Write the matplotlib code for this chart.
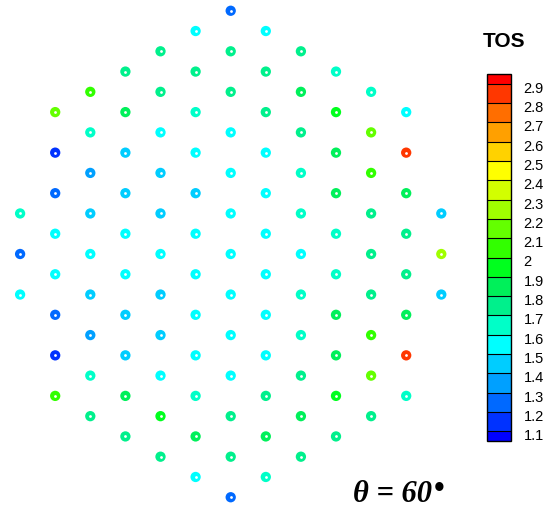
import numpy as np
import matplotlib.pyplot as plt
import matplotlib.transforms as mtransforms
from matplotlib.colors import ListedColormap, BoundaryNorm
from matplotlib.cm import ScalarMappable

# TOS per column of the hex map, listed top to bottom (col_0 is the centre column)
col_m6 = [1.65, 1.25, 1.55]
col_m5 = [2.15, 1.15, 1.25, 1.55, 1.55, 1.25, 1.15, 2.05]
col_m4 = [2.05, 1.65, 1.35, 1.45, 1.55, 1.45, 1.35, 1.65, 1.75]
col_m3 = [1.75, 1.85, 1.45, 1.45, 1.55, 1.55, 1.45, 1.45, 1.85, 1.7]
col_m2 = [1.75, 1.75, 1.55, 1.45, 1.45, 1.55, 1.45, 1.45, 1.55, 1.95, 1.7]
col_m1 = [1.55, 1.75, 1.65, 1.55, 1.45, 1.55, 1.55, 1.55, 1.55, 1.65, 1.85, 1.55]
col_0 = [1.25, 1.75, 1.75, 1.55, 1.55, 1.55, 1.55, 1.55, 1.55, 1.55, 1.75, 1.75, 1.25]
col_p1 = [1.55, 1.75, 1.75, 1.55, 1.55, 1.55, 1.55, 1.55, 1.55, 1.75, 1.85, 1.65]
col_p2 = [1.7, 1.85, 1.75, 1.65, 1.65, 1.55, 1.65, 1.65, 1.75, 1.85, 1.75]
col_p3 = [1.65, 1.95, 1.85, 1.85, 1.65, 1.65, 1.85, 1.85, 1.95, 1.75]
col_p4 = [1.65, 2.15, 2.05, 1.75, 1.75, 1.75, 2.05, 2.15, 1.75]
col_p5 = [1.55, 2.85, 1.85, 1.75, 1.75, 1.85, 2.85, 1.65]
col_p6 = [1.45, 2.25, 1.45]

columns = [col_m6, col_m5, col_m4, col_m3, col_m2, col_m1, col_0,
           col_p1, col_p2, col_p3, col_p4, col_p5, col_p6]

levels = [1.05] + [round(1.1 + 0.1 * i, 1) for i in range(19)] + [2.95]
tick_vals = [round(1.1 + 0.1 * i, 1) for i in range(19)]

band_colors = ['#0000ff', '#0032ff', '#0069ff', '#00a0ff', '#00cdff',
               '#00ffff', '#00ffc8', '#00f08c', '#00f05a', '#00ff1e',
               '#32ff00', '#64ff00', '#a0ff00', '#d2ff00', '#ffff00',
               '#ffd200', '#ffa000', '#ff6e00', '#ff3700', '#ff0000']
cmap = ListedColormap(band_colors)
norm = BoundaryNorm(levels, cmap.N)

# hex lattice: column c, points every 2 half-rows, centred on 0
xs, ys, vals = [], [], []
for c, col in zip(range(-6, 7), columns):
    n = len(col)
    for i, v in enumerate(col):
        k = -(n - 1) + 2 * i
        xs.append(c)
        ys.append(-k)
        vals.append(v)

fig = plt.figure(figsize=(5.47, 5.10), dpi=100)
ax = fig.add_axes([0, 0, 1, 1])
ax.scatter(xs, ys, c=vals, cmap=cmap, norm=norm, s=55, linewidths=0)
ax.scatter(xs, ys, c='white', s=4, linewidths=0)
ax.set_xlim(-230.7 / 35.1, (547 - 230.7) / 35.1)
ax.set_ylim(-255 / 20.27, 255 / 20.27)
ax.axis('off')

cax = fig.add_axes([487 / 547, (510 - 442) / 510, 24 / 547, 367 / 510])
cb = fig.colorbar(ScalarMappable(norm=norm, cmap=cmap), cax=cax,
                  boundaries=levels, ticks=tick_vals, drawedges=True,
                  spacing='proportional')
cb.outline.set_linewidth(1.0)
cb.dividers.set_color('black')
cb.dividers.set_linewidth(0.8)
cax.set_yticklabels(['%g' % t for t in tick_vals])
cax.tick_params(which='both', length=0, pad=9, labelsize=10.5)
cax.minorticks_off()

fig.text(504 / 547, 1 - 41.5 / 510, 'TOS', ha='center', va='center',
         fontsize=15, fontweight='bold', fontfamily='Liberation Sans')
theta = fig.text(353 / 547, 1 - 502 / 510, '\u03b8 = 60', ha='left', va='baseline',
                 fontsize=22, fontweight='bold', fontstyle='italic',
                 fontfamily='Liberation Serif')
fig.canvas.draw()
bb = theta.get_window_extent()
fig.text((bb.x1 + 7) / 547, 1 - 489.5 / 510, '\u2022', ha='center', va='center',
         fontsize=22, fontweight='bold', fontfamily='Liberation Serif')

# labels sit a little below the band edges in the original
shift = mtransforms.ScaledTranslation(0, -0.025, fig.dpi_scale_trans)
for t in cax.yaxis.get_major_ticks():
    for lab in (t.label1, t.label2):
        lab.set_fontfamily('Liberation Sans')
        lab.set_transform(lab.get_transform() + shift)

fig.savefig('out.png', dpi=100)
